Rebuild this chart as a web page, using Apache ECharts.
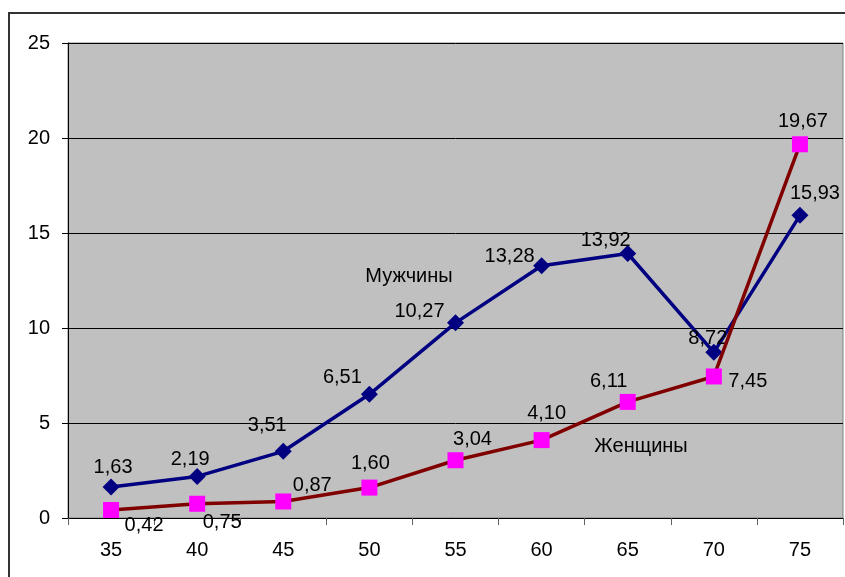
<!DOCTYPE html>
<html>
<head>
<meta charset="utf-8">
<script src="https://cdn.jsdelivr.net/npm/echarts@6/dist/echarts.min.js"></script>
<style>
  html, body { margin: 0; padding: 0; background: #fff; }
  #chart { width: 845px; height: 577px; }
</style>
</head>
<body>
<div id="chart"></div>
<script>
// Age groups along the horizontal axis
var ages = ['35', '40', '45', '50', '55', '60', '65', '70', '75'];

// Rates per age group
var menValues = [1.63, 2.19, 3.51, 6.51, 10.27, 13.28, 13.92, 8.72, 15.93];
var womenValues = [0.42, 0.75, 0.87, 1.60, 3.04, 4.10, 6.11, 7.45, 19.67];

// Vertical axis ticks
var yTicks = [0, 5, 10, 15, 20, 25];

// Series names
var menName = 'Мужчины';
var womenName = 'Женщины';

// Label placement around each marker (dx, dy in px from the marker centre)
var menLabelOffsets = [[2, -20], [-7, -17], [-16, -26], [-27, -17], [-36, -11], [-32, -9], [-22, -13], [-6, -14], [15, -22]];
var womenLabelOffsets = [[33, 15], [25, 19], [29, -16], [1, -24], [17, -21], [5, -27], [-19, -20], [34, 5], [3, -23]];

function fmt(v) {
  return v.toFixed(2).replace('.', ',');
}

function buildData(values, offsets) {
  return values.map(function (v, i) {
    return {
      value: v,
      label: { offset: offsets[i] }
    };
  });
}

var FONT = '"Liberation Sans", Arial, sans-serif';

var chart = echarts.init(document.getElementById('chart'), null, { renderer: 'canvas' });

chart.setOption({
  animation: false,
  backgroundColor: '#ffffff',
  textStyle: { fontFamily: FONT },
  grid: {
    left: 68,
    right: 2,
    top: 43,
    bottom: 59,
    show: true,
    backgroundColor: '#C0C0C0',
    borderColor: '#808080',
    borderWidth: 1
  },
  xAxis: {
    type: 'category',
    data: ages,
    boundaryGap: true,
    axisLine: { lineStyle: { color: '#000', width: 1 } },
    axisTick: { show: true, length: 7, lineStyle: { color: '#606060', width: 1 } },
    axisLabel: { color: '#000', fontSize: 20, fontFamily: FONT, margin: 22 },
    splitLine: { show: false }
  },
  yAxis: {
    type: 'value',
    min: yTicks[0],
    max: yTicks[yTicks.length - 1],
    interval: yTicks[1] - yTicks[0],
    axisLine: { show: true, lineStyle: { color: '#000', width: 1 } },
    axisTick: { show: true, inside: false, length: 6, lineStyle: { color: '#000' } },
    axisLabel: { color: '#000', fontSize: 20, fontFamily: FONT, margin: 18 },
    splitLine: { show: true, lineStyle: { color: '#000', width: 1 } }
  },
  series: [
    {
      name: menName,
      type: 'line',
      data: buildData(menValues, menLabelOffsets),
      symbol: 'diamond',
      symbolSize: 17,
      itemStyle: { color: '#000080' },
      lineStyle: { color: '#000080', width: 3.5 },
      label: {
        show: true,
        position: 'inside',
        color: '#000',
        fontSize: 20,
        fontFamily: FONT,
        formatter: function (p) { return fmt(p.value); }
      },
      z: 3
    },
    {
      name: womenName,
      type: 'line',
      data: buildData(womenValues, womenLabelOffsets),
      symbol: 'rect',
      symbolSize: 16,
      itemStyle: { color: '#FF00FF' },
      lineStyle: { color: '#800000', width: 3.5 },
      label: {
        show: true,
        position: 'inside',
        color: '#000',
        fontSize: 20,
        fontFamily: FONT,
        formatter: function (p) { return fmt(p.value); }
      },
      z: 4
    }
  ],
  graphic: [
    {
      type: 'rect',
      shape: { x: 9, y: 13, width: 900, height: 640 },
      style: { fill: null, stroke: '#333', lineWidth: 2 },
      silent: true,
      z: 100
    },
    {
      type: 'text',
      x: 409,
      y: 276,
      style: { text: menName, fill: '#000', font: '20px ' + FONT, textAlign: 'center', textVerticalAlign: 'middle' },
      z: 100
    },
    {
      type: 'text',
      x: 641,
      y: 446,
      style: { text: womenName, fill: '#000', font: '20px ' + FONT, textAlign: 'center', textVerticalAlign: 'middle' },
      z: 100
    }
  ]
});
</script>
</body>
</html>
